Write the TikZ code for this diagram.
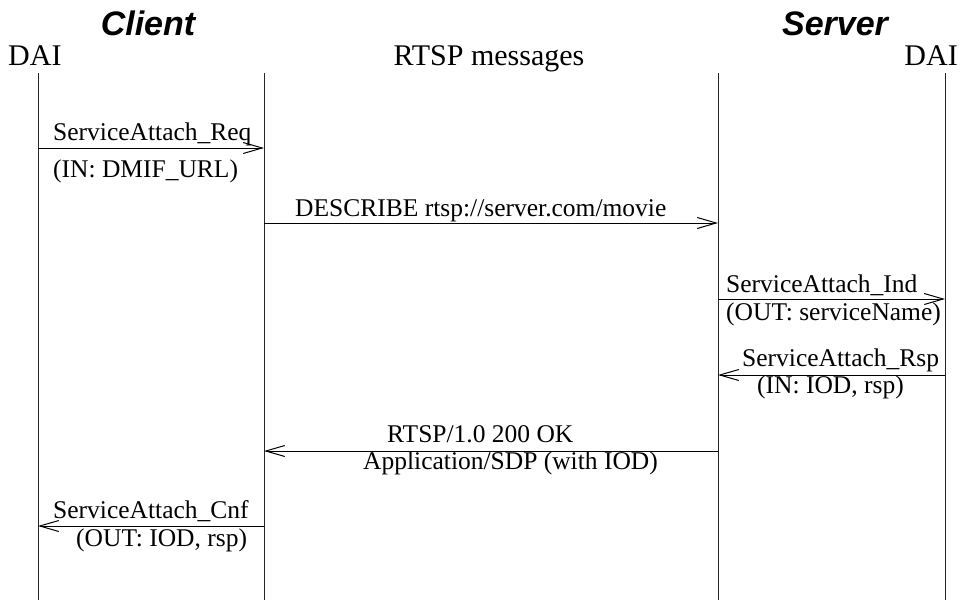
\documentclass[tikz,border=0pt]{standalone}
\usepackage{fontspec}
\setmainfont{Liberation Serif}
\newfontfamily\hvfont{Liberation Sans}
\usetikzlibrary{arrows.meta}
\begin{document}
\begin{tikzpicture}[x=1pt,y=-1pt,
  lbl/.style={inner sep=0pt,anchor=base west,font=\fontsize{25.5}{30}\selectfont},
  hdr/.style={inner sep=0pt,anchor=base,font=\fontsize{30}{36}\selectfont},
  role/.style={inner sep=0pt,anchor=base,font=\hvfont\bfseries\itshape\fontsize{34}{40}\selectfont},
  life/.style={line width=1pt,draw=black!85},
  msg/.style={line width=1pt,-{Straight Barb[length=19pt,width=11pt,line width=1pt]}}]
\useasboundingbox (0,0) rectangle (969,600);
% headers
\node[role] (client) at (148,35) {Client};
\node[role] (server) at (835,35) {Server};
\node[hdr,anchor=base west] (daiL) at (8,65) {DAI};
\node[hdr] (rtsp) at (489,65) {RTSP messages};
\node[hdr,anchor=base east] (daiR) at (958,65) {DAI};
% lifelines
\coordinate (L1t) at (38,73);  \coordinate (L1b) at (38,600);
\coordinate (L2t) at (264,73); \coordinate (L2b) at (264,600);
\coordinate (L3t) at (718,73); \coordinate (L3b) at (718,600);
\coordinate (L4t) at (945,73); \coordinate (L4b) at (945,600);
\draw[life] (L1t) -- (L1b);
\draw[life] (L2t) -- (L2b);
\draw[life] (L3t) -- (L3b);
\draw[life] (L4t) -- (L4b);
% message end points
\coordinate (m1a) at (38,148);  \coordinate (m1b) at (264,148);
\coordinate (m2a) at (264,223); \coordinate (m2b) at (718,223);
\coordinate (m3a) at (718,299); \coordinate (m3b) at (945,299);
\coordinate (m4a) at (945,375); \coordinate (m4b) at (718,375);
\coordinate (m5a) at (718,451); \coordinate (m5b) at (264,451);
\coordinate (m6a) at (264,526); \coordinate (m6b) at (38,526);
\draw[msg] (m1a) -- (m1b);
\draw[msg] (m2a) -- (m2b);
\draw[msg] (m3a) -- (m3b);
\draw[msg] (m4a) -- (m4b);
\draw[msg] (m5a) -- (m5b);
\draw[msg] (m6a) -- (m6b);
% labels
\node[lbl] (t1) at (53,140) {ServiceAttach\_Req};
\node[lbl] (t1b) at (53,177) {(IN: DMIF\_URL)};
\node[lbl] (t2) at (295,216) {DESCRIBE rtsp://server.com/movie};
\node[lbl] (t3) at (726,292) {ServiceAttach\_Ind};
\node[lbl] (t3b) at (726,320) {(OUT: serviceName)};
\node[lbl] (t4) at (742,366) {ServiceAttach\_Rsp};
\node[lbl] (t4b) at (757,393) {(IN: IOD, rsp)};
\node[lbl] (t5) at (387,442) {RTSP/1.0 200 OK};
\node[lbl] (t5b) at (363,469) {Application/SDP (with IOD)};
\node[lbl] (t6) at (53,518) {ServiceAttach\_Cnf};
\node[lbl] (t6b) at (76,546) {(OUT: IOD, rsp)};
\end{tikzpicture}
\end{document}
